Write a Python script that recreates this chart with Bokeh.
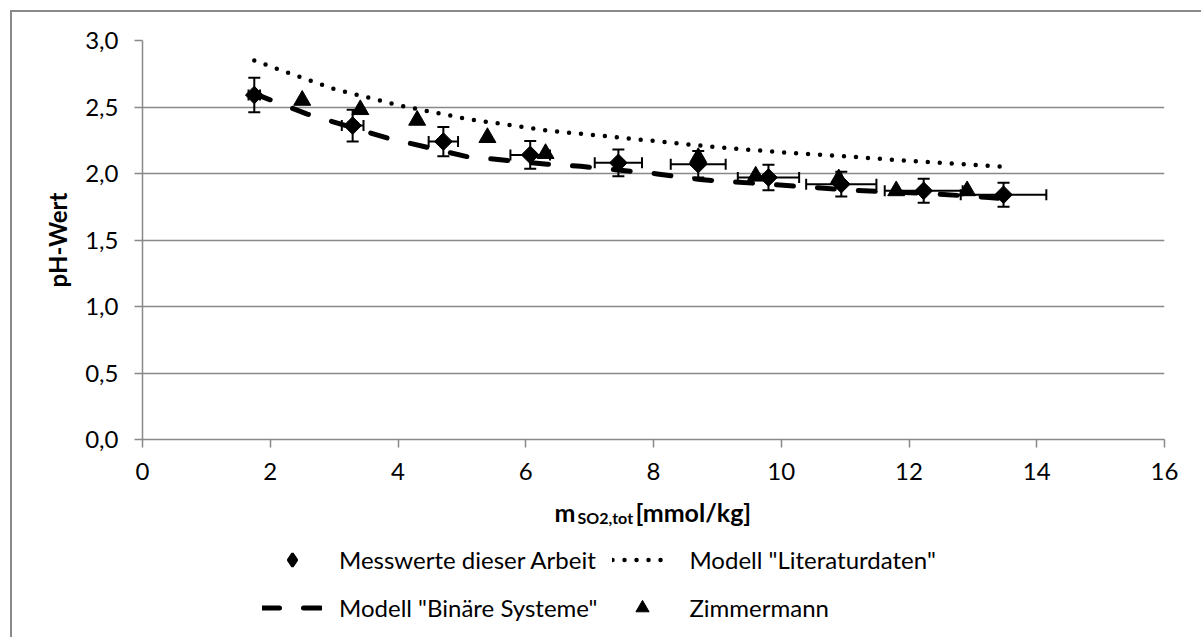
from bokeh.plotting import figure
from bokeh.layouts import column
from bokeh.models import (ColumnDataSource, Whisker, TeeHead, Legend, LegendItem,
                          Label, CustomJSTickFormatter, FixedTicker, Range1d)
from bokeh.embed import file_html
from bokeh.resources import INLINE
import math

# ---- data ----
meas_x = [1.75, 3.29, 4.71, 6.07, 7.45, 8.70, 9.80, 10.94, 12.23, 13.48]
meas_y = [2.59, 2.36, 2.24, 2.14, 2.08, 2.07, 1.97, 1.92, 1.87, 1.84]
meas_xerr = [0.09, 0.17, 0.23, 0.31, 0.37, 0.43, 0.48, 0.55, 0.61, 0.67]
meas_yerr = [0.13, 0.12, 0.11, 0.105, 0.10, 0.10, 0.095, 0.093, 0.09, 0.09]

zim_x = [2.50, 3.41, 4.30, 5.40, 6.31, 8.70, 9.60, 10.90, 11.80, 12.91]
zim_y = [2.55, 2.48, 2.40, 2.27, 2.15, 2.12, 1.98, 1.96, 1.87, 1.87]

lit_x = [1.75, 2.20, 3.00, 4.04, 5.08, 6.39, 6.91, 8.00, 9.00, 10.00, 11.08, 11.92, 12.70, 13.48]
lit_y = [2.85, 2.77, 2.635, 2.51, 2.41, 2.32, 2.297, 2.245, 2.197, 2.16, 2.127, 2.097, 2.075, 2.05]

bin_x = [1.75, 2.58, 3.83, 5.08, 6.34, 6.86, 8.06, 8.73, 9.88, 11.19, 12.39, 13.25, 13.48]
bin_y = [2.60, 2.447, 2.267, 2.127, 2.07, 2.054, 1.997, 1.954, 1.917, 1.872, 1.847, 1.82, 1.81]

x_ticks = [0, 2, 4, 6, 8, 10, 12, 14, 16]
y_ticks = [0.0, 0.5, 1.0, 1.5, 2.0, 2.5, 3.0]

x_title_main = "m"
x_title_sub = "SO2,tot"
x_title_unit = "[mmol/kg]"
y_title = "pH-Wert"
leg_meas = "Messwerte dieser Arbeit"
leg_lit = 'Modell "Literaturdaten"'
leg_bin = 'Modell "Binäre Systeme"'
leg_zim = "Zimmermann"

FONT = "Lato"
FS = "24px"
GREY = "#898989"

# page geometry (the chart box starts at 10,10 with a 2px border)
OX, OY = 12, 12
W = 1201 - OX
SPLIT = 488
H1 = SPLIT - OY        # main plot height
H2 = 637 - SPLIT       # legend / title strip
FL, FR, FT, FB = 142, 1164, 40, 439   # plot frame in page pixels

# ---- main figure ----
p = figure(width=W, height=H1, output_backend="svg", toolbar_location=None,
           x_range=Range1d(0, 16), y_range=Range1d(0, 3.0),
           min_border_left=FL - OX, min_border_right=1201 - FR,
           min_border_top=FT - OY, min_border_bottom=SPLIT - FB)
p.outline_line_color = None
p.background_fill_color = "white"
p.border_fill_color = "white"

p.xgrid.grid_line_color = None
p.ygrid.grid_line_color = GREY
p.ygrid.grid_line_width = 1.5
p.ygrid.ticker = FixedTicker(ticks=y_ticks)

for ax in (p.xaxis[0], p.yaxis[0]):
    ax.axis_line_color = GREY
    ax.axis_line_width = 1.5
    ax.major_tick_line_color = GREY
    ax.major_tick_line_width = 1.5
    ax.major_tick_in = 0
    ax.major_tick_out = 8
    ax.minor_tick_line_color = None
    ax.major_label_text_font = FONT
    ax.major_label_text_font_size = FS
    ax.major_label_text_color = "black"

p.xaxis.ticker = FixedTicker(ticks=x_ticks)
p.yaxis.ticker = FixedTicker(ticks=y_ticks)
p.yaxis.formatter = CustomJSTickFormatter(code="return tick.toFixed(1).replace('.', ',');")
p.xaxis.major_label_standoff = 15
p.yaxis.major_label_standoff = 16

p.yaxis.axis_label = y_title
p.yaxis.axis_label_text_font = FONT
p.yaxis.axis_label_text_font_size = FS
p.yaxis.axis_label_text_font_style = "bold"
p.yaxis.axis_label_text_color = "black"
p.yaxis.axis_label_standoff = 10

lit_src = ColumnDataSource(dict(x=lit_x, y=lit_y))
bin_src = ColumnDataSource(dict(x=bin_x, y=bin_y))
meas_src = ColumnDataSource(dict(
    x=meas_x, y=meas_y,
    xl=[a - b for a, b in zip(meas_x, meas_xerr)], xu=[a + b for a, b in zip(meas_x, meas_xerr)],
    yl=[a - b for a, b in zip(meas_y, meas_yerr)], yu=[a + b for a, b in zip(meas_y, meas_yerr)]))
zim_src = ColumnDataSource(dict(x=zim_x, y=zim_y))

LIT = dict(line_color="black", line_width=4.5, line_dash="0 12", line_cap="round")
BIN = dict(line_color="black", line_width=5, line_dash="17 24", line_cap="round")
MEAS = dict(marker="square", angle=math.pi / 4, size=12.5, fill_color="black", line_color="black")
ZIM = dict(marker="triangle", size=17, fill_color="black", line_color="black")

p.line("x", "y", source=lit_src, **LIT)
p.line("x", "y", source=bin_src, **BIN)

p.add_layout(Whisker(source=meas_src, base="x", lower="yl", upper="yu", dimension="height",
                     line_color="black", line_width=2,
                     upper_head=TeeHead(size=12, line_color="black", line_width=2),
                     lower_head=TeeHead(size=12, line_color="black", line_width=2)))
p.add_layout(Whisker(source=meas_src, base="y", lower="xl", upper="xu", dimension="width",
                     line_color="black", line_width=2,
                     upper_head=TeeHead(size=11, line_color="black", line_width=2),
                     lower_head=TeeHead(size=11, line_color="black", line_width=2)))

p.scatter("x", "y", source=meas_src, **MEAS)
p.scatter("x", "y", source=zim_src, **ZIM)

# ---- strip below: x-axis title and legend (data coordinates = page pixels) ----
p2 = figure(width=W, height=H2, output_backend="svg", toolbar_location=None,
            x_range=Range1d(FL, FR), y_range=Range1d(637, SPLIT),
            x_axis_type=None, y_axis_type=None,
            min_border_left=FL - OX, min_border_right=1201 - FR,
            min_border_top=0, min_border_bottom=0)
p2.outline_line_color = None
p2.grid.grid_line_color = None
p2.background_fill_color = "white"
p2.border_fill_color = "white"

p2.add_layout(Label(x=554, y=511, text=x_title_main, text_font=FONT, text_font_size="25px",
                    text_font_style="bold", text_color="black", text_baseline="alphabetic"))
p2.add_layout(Label(x=577, y=517, text=x_title_sub, text_font=FONT, text_font_size="16px",
                    text_font_style="bold", text_color="black", text_baseline="alphabetic"))
p2.add_layout(Label(x=635, y=511, text=x_title_unit, text_font=FONT, text_font_size="25px",
                    text_font_style="bold", text_color="black", text_baseline="alphabetic"))

# legend renderers: same data, which lies outside this strip's ranges (not drawn here)
g_meas = p2.scatter("x", "y", source=meas_src, marker="diamond", fill_color="black",
                    line_color="black", line_width=2.5)
g_lit = p2.line("x", "y", source=lit_src, **LIT)
g_bin = p2.line("x", "y", source=bin_src, **BIN)
g_zim = p2.scatter("x", "y", source=zim_src, **ZIM)

legend = Legend(items=[LegendItem(label=leg_meas, renderers=[g_meas]),
                       LegendItem(label=leg_lit, renderers=[g_lit]),
                       LegendItem(label=leg_bin, renderers=[g_bin]),
                       LegendItem(label=leg_zim, renderers=[g_zim])],
                orientation="horizontal", ncols=2,
                location=(262 - FL, 637 - 624),
                label_text_font=FONT, label_text_font_size=FS, label_text_color="black",
                glyph_width=60, glyph_height=33, label_height=33, label_standoff=17,
                spacing=15, padding=0, margin=0,
                background_fill_alpha=0, border_line_color=None)
p2.add_layout(legend, "center")

root = column(p, p2, spacing=0)
root.styles = {"margin-left": "10px", "margin-top": "10px",
               "border-left": f"2px solid {GREY}", "border-top": f"2px solid {GREY}"}

open("out.html", "w").write(file_html(root, INLINE))
